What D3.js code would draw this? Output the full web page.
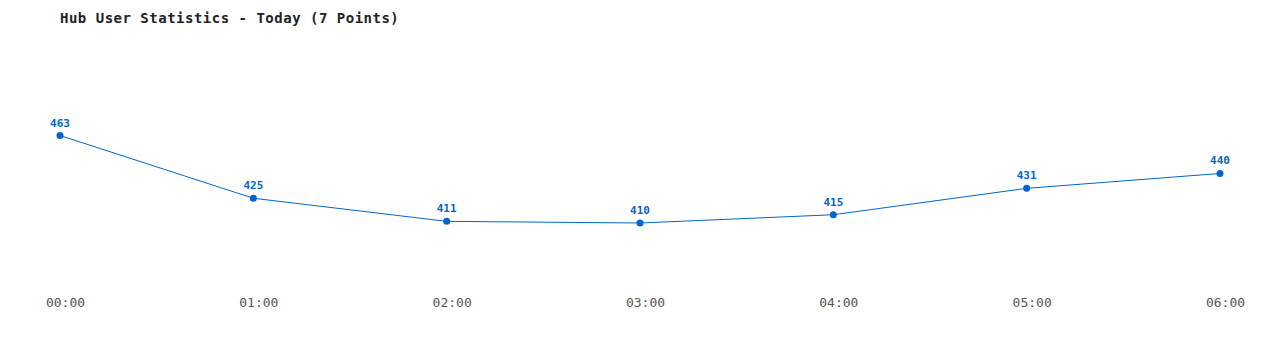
<!DOCTYPE html>
<html>
<head>
<meta charset="utf-8">
<script src="https://cdn.jsdelivr.net/npm/d3@7"></script>
<style>
  body { margin: 0; background: #fff; }
  text { font-family: "DejaVu Sans Mono", "Liberation Mono", monospace; }
</style>
</head>
<body>
<svg id="chart"></svg>
<script>
// chart data
const hours = ["00:00", "01:00", "02:00", "03:00", "04:00", "05:00", "06:00"];
const users = [463, 425, 411, 410, 415, 431, 440];
const title = "Hub User Statistics - Today (7 Points)";

const width = 1280, height = 350;
const blue = "#0066cc";

const svg = d3.select("#chart")
    .attr("width", width)
    .attr("height", height);

const data = hours.map((h, i) => ({hour: h, value: users[i]}));

// scales
const xScale = d3.scalePoint()
    .domain(hours)
    .range([60, 1220]);

const yScale = d3.scaleLinear()
    .domain([410, 463])
    .range([223, 135.5]);

// title
svg.append("text")
    .attr("x", 60)
    .attr("y", 23)
    .attr("font-size", 14)
    .attr("letter-spacing", 0.5)
    .attr("fill", "#222")
    .attr("font-weight", "bold")
    .text(title);

// x axis (labels only)
const xAxis = d3.axisBottom(xScale)
    .tickSize(0)
    .tickPadding(0);

const xAxisG = svg.append("g")
    .attr("transform", "translate(5,298)")
    .call(xAxis);
xAxisG.select(".domain").remove();
xAxisG.selectAll("text")
    .attr("font-size", 13)
    .attr("fill", "#555")
    .style("font-family", "'DejaVu Sans Mono', monospace");

// line
svg.append("path")
    .datum(data)
    .attr("fill", "none")
    .attr("stroke", blue)
    .attr("stroke-width", 1)
    .attr("d", d3.line()
        .x(d => xScale(d.hour))
        .y(d => yScale(d.value)));

// points
svg.selectAll(".point")
    .data(data)
    .join("circle")
    .attr("class", "point")
    .attr("r", 3.5)
    .attr("fill", blue)
    .attr("cx", d => xScale(d.hour))
    .attr("cy", d => yScale(d.value));

// value labels
svg.selectAll(".value-label")
    .data(data)
    .join("text")
    .attr("class", "value-label")
    .attr("x", d => xScale(d.hour))
    .attr("y", d => yScale(d.value) - 9)
    .attr("text-anchor", "middle")
    .attr("font-size", 11)
    .attr("font-weight", "bold")
    .attr("fill", blue)
    .text(d => d.value);
</script>
</body>
</html>
